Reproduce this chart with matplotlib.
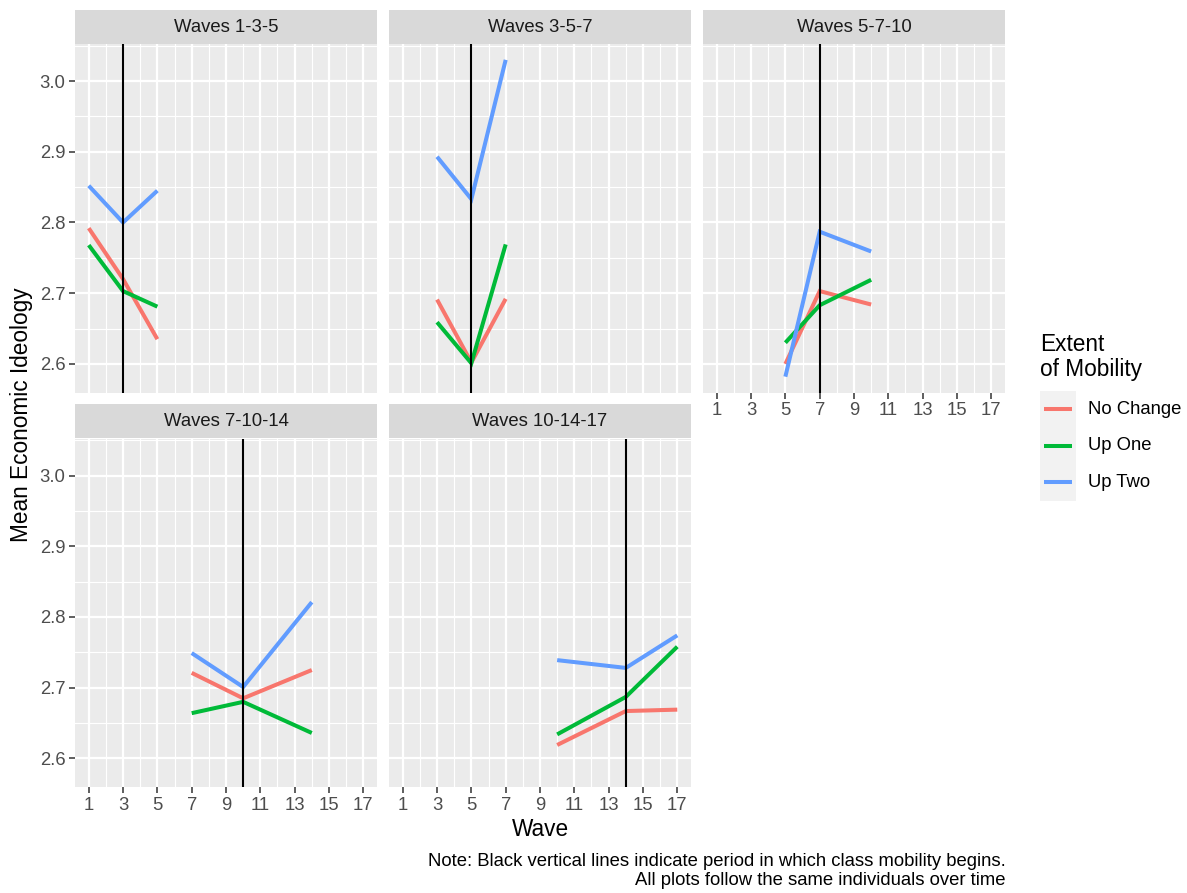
import matplotlib
matplotlib.use("Agg")
import matplotlib.pyplot as plt
from matplotlib.patches import Rectangle
from matplotlib.lines import Line2D
import numpy as np

plt.rcParams['font.family'] = ['Liberation Sans', 'DejaVu Sans']

# ---------------- data ----------------
panel_titles = ["Waves 1-3-5", "Waves 3-5-7", "Waves 5-7-10",
                "Waves 7-10-14", "Waves 10-14-17"]
panel_waves = [[1, 3, 5], [3, 5, 7], [5, 7, 10], [7, 10, 14], [10, 14, 17]]
mobility_start = [3, 5, 7, 10, 14]

groups = ["No Change", "Up One", "Up Two"]
group_colors = ["#F8766D", "#00BA38", "#619CFF"]

no_change = [[2.792, 2.720, 2.635],
             [2.691, 2.602, 2.692],
             [2.600, 2.703, 2.684],
             [2.721, 2.685, 2.725],
             [2.619, 2.667, 2.669]]
up_one = [[2.768, 2.703, 2.681],
          [2.659, 2.601, 2.769],
          [2.630, 2.683, 2.719],
          [2.664, 2.680, 2.636],
          [2.634, 2.687, 2.758]]
up_two = [[2.852, 2.800, 2.845],
          [2.893, 2.833, 3.030],
          [2.582, 2.787, 2.759],
          [2.749, 2.701, 2.821],
          [2.739, 2.728, 2.774]]
series = [no_change, up_one, up_two]

x_ticks = [1, 3, 5, 7, 9, 11, 13, 15, 17]
y_ticks = [2.6, 2.7, 2.8, 2.9, 3.0]
y_tick_labels = ["2.6", "2.7", "2.8", "2.9", "3.0"]

x_title = "Wave"
y_title = "Mean Economic Ideology"
legend_title = "Extent\nof Mobility"
caption = ("Note: Black vertical lines indicate period in which class mobility begins.\n"
           "All plots follow the same individuals over time")

# ---------------- layout ----------------
W, H = 1187, 893
DPI = 100
fig = plt.figure(figsize=(W / DPI, H / DPI), dpi=DPI)
fig.patch.set_facecolor("white")

def px_rect(x0, y0, w, h):
    return [x0 / W, (H - y0 - h) / H, w / W, h / H]

col_x = [75, 389, 703]
pw = 302
strip_top = [10, 404.5]
strip_h = 34
panel_h = 348.5

# limits (ggplot-style 5% expansion)
all_y = np.array(series).ravel()
ymin, ymax = all_y.min(), all_y.max()
yr = ymax - ymin
ylim = (ymin - 0.05 * yr, ymax + 0.05 * yr)
all_x = np.array([w for ws in panel_waves for w in ws])
xmin, xmax = all_x.min(), all_x.max()
xr = xmax - xmin
xlim = (xmin - 0.05 * xr, xmax + 0.05 * xr)

y_minor = [v for v in np.arange(2.55, 3.10, 0.1) if ylim[0] <= v <= ylim[1]]
x_minor = [v for v in range(0, 19, 2) if xlim[0] <= v <= xlim[1]]

tick_col = "#333333"
label_col = "#4D4D4D"
fs_tick = 13.3

for i, title in enumerate(panel_titles):
    r, c = divmod(i, 3)
    x0 = col_x[c]
    # strip
    sax = fig.add_axes(px_rect(x0, strip_top[r], pw, strip_h))
    sax.set_facecolor("#D9D9D9")
    sax.set_xticks([]); sax.set_yticks([])
    for s in sax.spines.values():
        s.set_visible(False)
    sax.text(0.5, 0.5, title, ha="center", va="center", fontsize=fs_tick,
             color="#1A1A1A", transform=sax.transAxes)
    # panel
    ax = fig.add_axes(px_rect(x0, strip_top[r] + strip_h, pw, panel_h))
    ax.set_facecolor("#EBEBEB")
    for s in ax.spines.values():
        s.set_visible(False)
    ax.set_xlim(*xlim)
    ax.set_ylim(*ylim)
    for v in x_minor:
        ax.axvline(v, color="white", lw=0.8, zorder=0.5)
    for v in y_minor:
        ax.axhline(v, color="white", lw=0.8, zorder=0.5)
    for v in x_ticks:
        ax.axvline(v, color="white", lw=1.6, zorder=0.6)
    for v in y_ticks:
        ax.axhline(v, color="white", lw=1.6, zorder=0.6)
    ax.set_axisbelow(True)

    for g, (vals, col) in enumerate(zip(series, group_colors)):
        ax.plot(panel_waves[i], vals[i], color=col, lw=2.9,
                solid_capstyle="butt", solid_joinstyle="miter", zorder=2 + g)
    ax.axvline(mobility_start[i], color="black", lw=1.5, zorder=10)

    ax.set_xticks(x_ticks)
    ax.set_xticklabels([str(t) for t in x_ticks])
    ax.set_yticks(y_ticks)
    ax.set_yticklabels(y_tick_labels)
    show_x = (i >= 2)
    show_y = (c == 0)
    ax.tick_params(axis="x", bottom=show_x, labelbottom=show_x, length=4,
                   width=1.1, color=tick_col, labelcolor=label_col,
                   labelsize=fs_tick, pad=3)
    ax.tick_params(axis="y", left=show_y, labelleft=show_y, length=4,
                   width=1.1, color=tick_col, labelcolor=label_col,
                   labelsize=fs_tick, pad=3)

# axis titles
fig.text(540 / W, 1 - 830 / H, x_title, ha="center", va="center",
         fontsize=16.3, color="black")
fig.text(22 / W, 1 - 415 / H, y_title, ha="center", va="center",
         rotation=90, fontsize=16.3, color="black")

# legend (manual, ggplot-like)
lax = fig.add_axes([0, 0, 1, 1], zorder=-1)
lax.set_xlim(0, W)
lax.set_ylim(H, 0)
lax.axis("off")
lax.text(1040, 357, legend_title, ha="left", va="center", fontsize=16.3,
         color="black", linespacing=1.1)
key_top = 391
key_h = 36.5
for g, (name, col) in enumerate(zip(groups, group_colors)):
    ky = key_top + g * key_h
    lax.add_patch(Rectangle((1040, ky), 36, key_h, facecolor="#F2F2F2",
                            edgecolor="none"))
    lax.add_line(Line2D([1044, 1072], [ky + key_h / 2, ky + key_h / 2],
                        color=col, lw=2.9, solid_capstyle="butt"))
    lax.text(1088, ky + key_h / 2, name, ha="left", va="center",
             fontsize=fs_tick, color="black")

# caption
fig.text(1006 / W, 1 - 871 / H, caption, ha="right", va="center",
         multialignment="right", fontsize=fs_tick, color="black",
         linespacing=1.1)

fig.savefig("out.png", dpi=DPI, facecolor="white")
